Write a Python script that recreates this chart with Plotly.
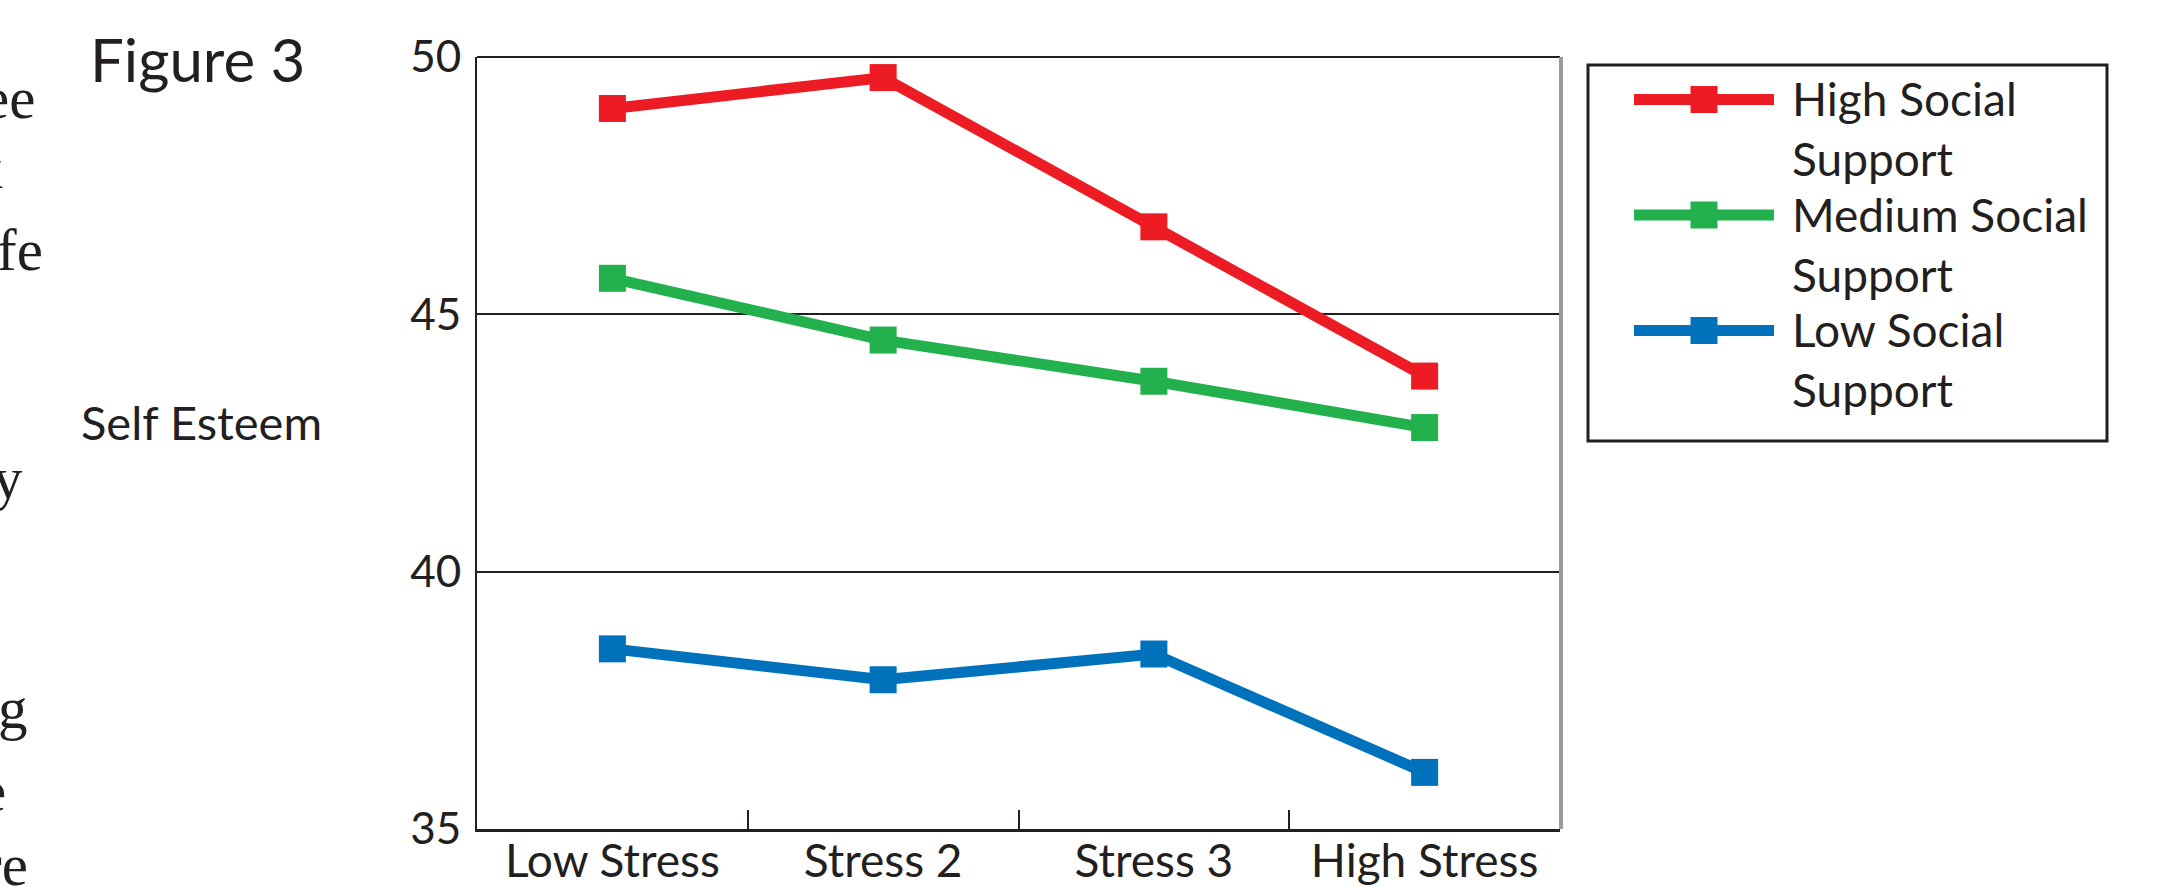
import plotly.graph_objects as go

# ---- data -------------------------------------------------------------
stress_levels = ["Low Stress", "Stress 2", "Stress 3", "High Stress"]
high_support = [49.0, 49.6, 46.7, 43.8]
medium_support = [45.7, 44.5, 43.7, 42.8]
low_support = [38.5, 37.9, 38.4, 36.1]

series_names = ["High Social<br>Support", "Medium Social<br>Support", "Low Social<br>Support"]
series_values = [high_support, medium_support, low_support]
series_colors = ["#ED1C24", "#22B14C", "#0072BC"]

y_ticks = [35, 40, 45, 50]

# ---- geometry (pixels) ------------------------------------------------
W, H = 2159, 887
PLOT_L, PLOT_R, PLOT_T, PLOT_B = 477, 1560, 57, 829
SANS = "Lato"
SERIF = "Liberation Serif"
INK = "#231F20"
LINE_W = 11
MARK = 27


def px(x):
    return x / W


def py(y):
    return 1 - y / H


fig = go.Figure()

for name, vals, col in zip(series_names, series_values, series_colors):
    fig.add_trace(go.Scatter(
        x=stress_levels, y=vals, name=name, mode="lines+markers",
        line=dict(color=col, width=LINE_W),
        marker=dict(symbol="square", size=MARK, color=col, line=dict(width=0)),
        showlegend=False, xaxis="x", yaxis="y",
    ))

# legend samples drawn in their own small subplot
legend_rows = [2, 1, 0]
for row, col in zip(legend_rows, series_colors):
    fig.add_trace(go.Scatter(
        x=[0, 2], y=[row, row], mode="lines", line=dict(color=col, width=LINE_W),
        showlegend=False, hoverinfo="skip", xaxis="x2", yaxis="y2",
    ))
    fig.add_trace(go.Scatter(
        x=[1], y=[row], mode="markers",
        marker=dict(symbol="square", size=MARK, color=col, line=dict(width=0)),
        showlegend=False, hoverinfo="skip", xaxis="x2", yaxis="y2",
    ))

LEG_LINE_L, LEG_LINE_R = 1634, 1774
LEG_ROW_Y = [99, 215, 330]
row_step = (LEG_ROW_Y[2] - LEG_ROW_Y[0]) / 2
leg_top = LEG_ROW_Y[1] - 1.5 * row_step
leg_bot = LEG_ROW_Y[1] + 1.5 * row_step

fig.update_layout(
    width=W, height=H,
    margin=dict(l=0, r=0, t=0, b=0, pad=0, autoexpand=False),
    paper_bgcolor="white", plot_bgcolor="white",
    font=dict(family=SANS, color=INK, size=46),
    xaxis=dict(
        domain=[px(PLOT_L), px(PLOT_R)], type="category",
        categoryorder="array", categoryarray=stress_levels,
        range=[-0.5, len(stress_levels) - 0.5],
        tickson="boundaries", ticks="inside", ticklen=19, tickwidth=2,
        tickcolor=INK, showgrid=False, zeroline=False,
        showline=True, linecolor=INK, linewidth=3,
        tickfont=dict(family=SANS, size=46, color=INK),
        ticklabelstandoff=-10,
        anchor="y", automargin=False,
    ),
    yaxis=dict(
        domain=[py(PLOT_B), py(PLOT_T)], range=[35, 50],
        tickvals=y_ticks, ticks="", showgrid=True, gridcolor=INK,
        gridwidth=2, zeroline=False, showline=True, linecolor=INK,
        linewidth=2, tickfont=dict(family=SANS, size=44, color=INK),
        ticklabelstandoff=5, anchor="x", automargin=False,
    ),
    xaxis2=dict(domain=[px(LEG_LINE_L), px(LEG_LINE_R)], range=[0, 2],
                visible=False, anchor="y2", fixedrange=True, automargin=False),
    yaxis2=dict(domain=[py(leg_bot), py(leg_top)], range=[-0.5, 2.5],
                visible=False, anchor="x2", fixedrange=True, automargin=False),
    showlegend=False,
)

shapes = [
    # top frame line
    dict(type="line", xref="paper", yref="paper", x0=px(PLOT_L), x1=px(PLOT_R),
         y0=py(PLOT_T), y1=py(PLOT_T), line=dict(color=INK, width=2)),
    # right frame line (grey)
    dict(type="line", xref="paper", yref="paper", x0=px(PLOT_R + 1), x1=px(PLOT_R + 1),
         y0=py(PLOT_T), y1=py(PLOT_B), line=dict(color="#999A9C", width=4)),
    # legend frame
    dict(type="rect", xref="paper", yref="paper", x0=px(1588), x1=px(2107),
         y0=py(441), y1=py(65), line=dict(color=INK, width=3),
         fillcolor="rgba(0,0,0,0)", layer="below"),
]
fig.update_layout(shapes=shapes)

annotations = []
# legend labels
for name, ry in zip(series_names, LEG_ROW_Y):
    annotations.append(dict(
        text=name, xref="paper", yref="paper", x=px(1790), y=py(ry - 30),
        xanchor="left", yanchor="top", align="left", showarrow=False,
        font=dict(family=SANS, size=46, color=INK),
    ))

# figure caption and axis name
annotations.append(dict(text="Figure 3", xref="paper", yref="paper",
                        x=px(88), y=py(59), xanchor="left", yanchor="middle",
                        showarrow=False, font=dict(family=SANS, size=60, color=INK)))
annotations.append(dict(text="Self Esteem", xref="paper", yref="paper",
                        x=px(79), y=py(422), xanchor="left", yanchor="middle",
                        showarrow=False, font=dict(family=SANS, size=47, color=INK)))

# tail ends of the neighbouring body-text column
body_fragments = ["ee", "k", "fe", "y", "g", "e", "re"]
fragment_right = [37, 5, 45, 25, 30, 8, 30]
fragment_base = [118, 188, 270, 498, 728, 811, 885]
for t, xr, yb in zip(body_fragments, fragment_right, fragment_base):
    annotations.append(dict(text=t, xref="paper", yref="paper",
                            x=px(xr), y=py(yb - 20), xanchor="right", yanchor="middle",
                            showarrow=False,
                            font=dict(family=SERIF, size=59, color=INK)))

fig.update_layout(annotations=annotations)

fig.write_html("out.html")
